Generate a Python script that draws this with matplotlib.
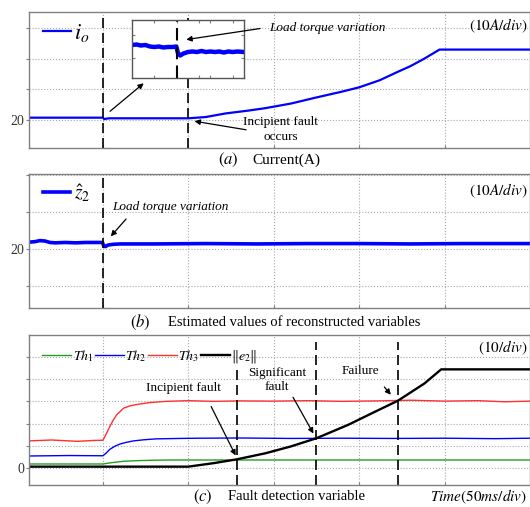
import matplotlib
matplotlib.use("Agg")
import matplotlib.pyplot as plt

plt.rcParams['font.family'] = ['Liberation Serif', 'DejaVu Serif']
plt.rcParams['mathtext.fontset'] = 'stix'

# time axis in ms (50 ms/div), load step at t=0, incipient fault at t=50
t_grid = [0, 50, 100, 150, 200]

# (a) output current
t_io = [-43, -20, 0, 0.8, 2, 4, 20, 50, 60, 72, 85, 95, 110, 125, 140, 150, 162, 172, 180, 188, 197, 250]
io = [20.8, 20.8, 20.8, 20.3, 20.5, 20.6, 20.6, 20.6, 21.0, 22.2, 23.1, 23.9, 25.4, 27.4, 29.3, 30.7,
      33.0, 35.6, 37.6, 40.0, 43.0, 43.0]

# (a) inset, zoom around the load step
t_in = [-20, -18, -16, -14, -12, -10, -8, -6, -4, -2, -0.2, 0.5, 1.5, 3, 5, 7, 9, 11, 13, 15, 17, 19,
        21, 23, 25, 27, 30]
io_in = [20.66, 20.67, 20.65, 20.66, 20.63, 20.62, 20.63, 20.61, 20.62, 20.62, 20.63, 20.50, 20.45,
         20.49, 20.52, 20.53, 20.52, 20.54, 20.52, 20.53, 20.52, 20.53, 20.51, 20.53, 20.52, 20.53, 20.52]

# (b) estimated z2
t_z = [-43, -40, -37, -34, -31, -28, -22, -16, -10, -4, -0.3, 0.5, 1.5, 3, 6, 10, 30, 60, 90, 120,
       150, 180, 210, 250]
z2 = [21.9, 22.0, 22.3, 22.2, 21.8, 21.7, 21.8, 21.7, 21.8, 21.8, 21.8, 20.8, 20.7, 21.1, 21.3, 21.4,
      21.4, 21.5, 21.4, 21.5, 21.5, 21.4, 21.5, 21.5]

# (c) thresholds and residual norm
t_th1 = [-43, 0, 5, 12, 20, 30, 40, 100, 150, 200, 250]
th1 = [1.8, 1.8, 2.4, 3.0, 3.3, 3.5, 3.6, 3.6, 3.6, 3.6, 3.6]
t_th2 = [-43, -20, 0, 2, 4, 7, 10, 14, 18, 24, 31, 45, 56, 80, 110, 140, 170, 200, 230, 250]
th2 = [5.4, 5.6, 5.5, 6.8, 8.4, 9.8, 10.8, 11.6, 12.2, 12.7, 13.1, 13.3, 13.4, 13.5, 13.3, 13.4,
       13.3, 13.4, 13.2, 13.4]
t_th3 = [-43, -30, -15, -5, 0, 2, 4, 6, 8, 12, 16, 20, 27, 37, 50, 65, 80, 100, 120, 140, 160, 180,
         200, 220, 235, 250]
th3 = [12.2, 12.6, 12.0, 12.4, 12.5, 15.5, 18.6, 21.5, 23.9, 26.9, 28.0, 28.6, 29.4, 30.0, 30.3,
       30.0, 30.2, 30.1, 30.3, 30.0, 30.2, 30.5, 30.1, 30.3, 29.8, 30.1]
t_e2 = [-43, 50, 65, 78.4, 95, 110, 125, 143.5, 160, 172.7, 188.3, 198, 250]
e2 = [0.6, 0.6, 2.2, 3.9, 6.6, 9.7, 13.4, 19.4, 25.6, 30.3, 38.1, 44.4, 44.4]

# detection instants in (c)
t_detect = [78.4, 125, 172.7]

BLUE = '#0000ff'
GREEN = '#22a022'
RED = '#ff3030'
SPINE = '#808080'
FS = 9.5
ARROW = dict(arrowstyle='-|>', color='black', lw=0.9, mutation_scale=8)

fig = plt.figure(figsize=(5.30, 5.07), dpi=100)
ax_a = fig.add_axes([0.0547, 0.708, 0.9453, 0.268])
ax_b = fig.add_axes([0.0547, 0.3925, 0.9453, 0.264])
ax_c = fig.add_axes([0.0547, 0.0434, 0.9453, 0.296])


def style(ax, ylim, yticks, label_at):
    ax.set_xlim(-43.3, 250)
    ax.set_ylim(*ylim)
    ax.set_xticks(t_grid)
    ax.set_xticklabels([])
    ax.set_yticks(yticks)
    ax.set_yticklabels([str(v) if v == label_at else '' for v in yticks])
    ax.grid(True, linestyle=':', color='#a8a8a8', linewidth=0.8)
    ax.tick_params(axis='y', direction='out', length=2.5, color=SPINE, labelsize=10,
                   labelcolor='#333333', pad=1)
    ax.tick_params(axis='x', direction='in', length=2.5, color=SPINE)
    for s in ax.spines.values():
        s.set_color(SPINE)
        s.set_linewidth(1.0)


# ---- (a)
style(ax_a, (10.9, 55.2), [20, 30, 40, 50], 20)
ax_a.plot(t_io, io, color=BLUE, lw=1.6, label=r'$i_o$')
ax_a.axvline(0, color='black', lw=1.2, ls=(0, (6, 3)))
ax_a.axvline(50, color='black', lw=1.2, ls=(0, (6, 3)))
ax_a.legend(loc='center left', bbox_to_anchor=(0.028, 0.846), frameon=False, fontsize=16,
            handlelength=1.25, handletextpad=0.15, borderpad=0, borderaxespad=0)
ax_a.text(0.996, 0.9, r'$(10A/div)$', transform=ax_a.transAxes, ha='right', va='center', fontsize=11)
ax_a.annotate('', xy=(25.1, 32.6), xytext=(2.9, 22.3), arrowprops=ARROW)
ax_a.text(104, 16.9, 'Incipient fault\noccurs', ha='center', va='center', fontsize=FS,
          linespacing=1.3)
ax_a.annotate('', xy=(52, 19.8), xytext=(85.4, 16.7), arrowprops=ARROW)
ax_a.text(97.5, 50.2, 'Load torque variation', style='italic', ha='left', va='center', fontsize=FS)

# inset
ax_in = fig.add_axes([132 / 530, 1 - 78 / 507, 112 / 530, 58 / 507])
ax_in.set_xlim(-20, 30)
ax_in.set_ylim(20.0, 21.16)
ax_in.plot(t_in, io_in, color=BLUE, lw=3.2)
ax_in.axvline(0, color='black', lw=1.5, ls=(0, (6, 3)))
ax_in.set_xticks([-10, 0, 10, 15, 25])
ax_in.set_yticks([20.4, 20.86])
ax_in.set_xticklabels([])
ax_in.set_yticklabels([])
ax_in.tick_params(direction='in', length=2, color=SPINE, top=True, right=True)
for s in ax_in.spines.values():
    s.set_color('#555555')
    s.set_linewidth(1.0)
ax_in.annotate('', xy=(3.0, 20.76), xycoords='data', xytext=(93.6, 50.0), textcoords=ax_a.transData,
               arrowprops=ARROW, annotation_clip=False)

# ---- (b)
style(ax_b, (4.05, 40.3), [10, 20, 30, 40], 20)
ax_b.plot(t_z, z2, color=BLUE, lw=2.6, label=r'$\hat{z}_2$')
ax_b.axvline(0, color='black', lw=1.2, ls=(0, (6, 3)))
ax_b.legend(loc='center left', bbox_to_anchor=(0.028, 0.86), frameon=False, fontsize=14,
            handlelength=1.4, handletextpad=0.2, borderpad=0, borderaxespad=0)
ax_b.text(0.996, 0.875, r'$(10A/div)$', transform=ax_b.transAxes, ha='right', va='center', fontsize=11)
ax_b.text(5.3, 31.4, 'Load torque variation', style='italic', ha='left', va='center', fontsize=FS)
ax_b.annotate('', xy=(3.5, 22.9), xytext=(14.6, 28.7), arrowprops=ARROW)

# ---- (c)
style(ax_c, (-7.66, 59.9), [0, 10, 20, 30, 40, 50], 0)
ax_c.plot(t_th1, th1, color=GREEN, lw=1.0, label=r'$Th_1$')
ax_c.plot(t_th2, th2, color=BLUE, lw=1.0, label=r'$Th_2$')
ax_c.plot(t_th3, th3, color=RED, lw=1.0, label=r'$Th_3$')
ax_c.plot(t_e2, e2, color='black', lw=1.7, label=r'$\Vert e_2\Vert$')
ymax_detect = [0.78, 0.95, 0.95]
for td, ym in zip(t_detect, ymax_detect):
    ax_c.axvline(td, ymax=ym, color='black', lw=1.2, ls=(0, (6, 3)))
ax_c.legend(loc='center left', bbox_to_anchor=(0.026, 0.855), frameon=False, fontsize=10, ncol=4,
            handlelength=2.1, handletextpad=0.1, columnspacing=0.1, borderpad=0, borderaxespad=0)
ax_c.text(0.996, 0.915, r'$(10/div)$', transform=ax_c.transAxes, ha='right', va='center', fontsize=11)
ax_c.text(47.4, 36.0, 'Incipient fault', ha='center', va='center', fontsize=FS)
ax_c.annotate('', xy=(78.4, 4.5), xytext=(62.6, 28.8), arrowprops=ARROW)
ax_c.text(101.8, 39.6, 'Significant\nfault', ha='center', va='center', fontsize=FS, linespacing=1.3)
ax_c.annotate('', xy=(124, 14.4), xytext=(110.5, 32.9), arrowprops=ARROW)
ax_c.text(150.9, 43.7, 'Failure', ha='center', va='center', fontsize=FS)
ax_c.annotate('', xy=(169.6, 32.0), xytext=(163.7, 37.4), arrowprops=ARROW)

# ---- captions
fig.text(218 / 530, 1 - 160 / 507, r'$(a)$', ha='left', va='center', fontsize=12)
fig.text(252 / 530, 1 - 160 / 507, 'Current(A)', ha='left', va='center', fontsize=11)
fig.text(130 / 530, 1 - 322.5 / 507, r'$(b)$', ha='left', va='center', fontsize=12)
fig.text(168 / 530, 1 - 322.5 / 507, 'Estimated values of reconstructed variables', ha='left',
         va='center', fontsize=10.5)
fig.text(193 / 530, 1 - 497 / 507, r'$(c)$', ha='left', va='center', fontsize=12)
fig.text(228 / 530, 1 - 497 / 507, 'Fault detection variable', ha='left', va='center', fontsize=10.5)
fig.text(430 / 530, 1 - 497 / 507, r'$Time(50ms/div)$', ha='left', va='center', fontsize=11)

fig.savefig('out.png', dpi=100)
